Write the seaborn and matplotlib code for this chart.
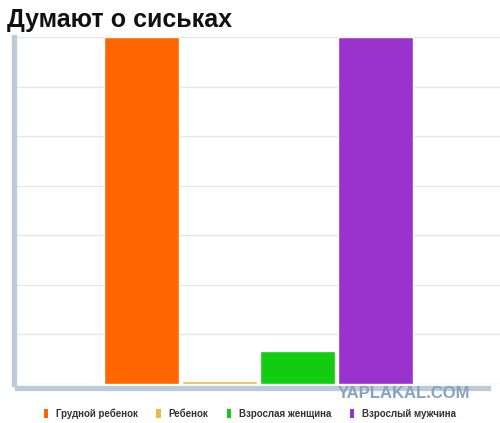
import numpy as np
import pandas as pd
import matplotlib
matplotlib.use('Agg')
import matplotlib.pyplot as plt
import seaborn as sns
from matplotlib.patches import Patch

# data (7 grid steps = full height)
categories = ['Грудной ребенок', 'Ребенок', 'Взрослая женщина', 'Взрослый мужчина']
values = [7.0, 0.07, 0.66, 7.0]
colors = ['#ff6600', '#e8bc44', '#11cc11', '#9933cc']
title = 'Думают о сиськах'

df = pd.DataFrame({'group': categories, 'value': values})

sns.set_style('white')
plt.rcParams['font.family'] = ['Liberation Sans', 'DejaVu Sans']

fig = plt.figure(figsize=(5, 4.23), dpi=100)
ax = fig.add_axes([0.034, 0.0922, 0.966, 0.8203])

sns.barplot(data=df, x='group', y='value', hue='group', palette=colors,
            width=0.96, legend=False, ax=ax, saturation=1, zorder=3)

ax.set_xlim(-1.6, 4.6)
ax.set_ylim(0, 7)
ax.set_yticks(np.arange(0, 8, 1))
ax.set_yticks(np.arange(0, 7, 0.5), minor=True)
ax.yaxis.grid(True, color='#e6e6e6', lw=1, zorder=0)
ax.set_axisbelow(True)
ax.set_xticks([])
ax.set_yticklabels([])
ax.set_xlabel('')
ax.set_ylabel('')
ax.tick_params(axis='y', which='major', length=6, width=0.8, color='#e0e6ee', direction='out')
ax.tick_params(axis='y', which='minor', length=3, width=0.8, color='#ffffff', direction='in')

axis_col = '#bccbdb'
for side in ['top', 'right']:
    ax.spines[side].set_visible(False)
ax.spines['left'].set_color(axis_col)
ax.spines['left'].set_linewidth(3.8)
ax.spines['left'].set_position(('outward', 2))
ax.spines['bottom'].set_color(axis_col)
ax.spines['bottom'].set_linewidth(3.8)
ax.spines['bottom'].set_position(('outward', 3))
ax.spines['bottom'].set_bounds(-1.6, 4.45)

fig.text(0.014, 0.935, title, fontsize=18, fontweight='bold', color='#111111')

fig.text(0.808, 0.069, 'YAPLAKAL.COM', fontsize=12, fontweight='bold',
         color='#86a2bf', ha='center', va='center')

handles = [Patch(facecolor=c, edgecolor='none') for c in colors]
fig.legend(handles, categories, loc='center', bbox_to_anchor=(0.5, 0.023), ncol=4,
           frameon=False, handlelength=0.45, handleheight=1.0, handletextpad=0.8,
           columnspacing=1.9, prop={'size': 7, 'weight': 'bold'}, labelcolor='#333333')

plt.savefig('out.png', dpi=100)
